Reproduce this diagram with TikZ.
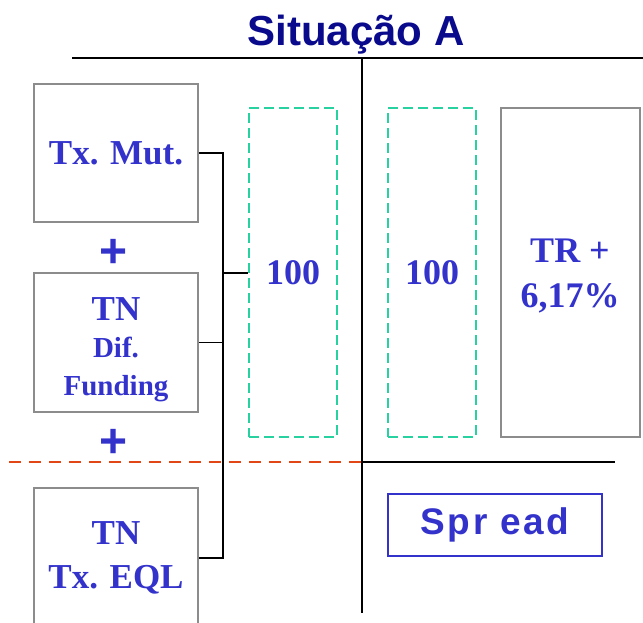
\documentclass[tikz,border=0pt]{standalone}
\usepackage{fontspec}
\setmainfont{Liberation Serif}
\setsansfont{Liberation Sans}
\usetikzlibrary{positioning, calc}

\definecolor{titleblue}{RGB}{10,10,140}
\definecolor{txtblue}{RGB}{51,51,204}
\definecolor{boxgray}{RGB}{140,140,140}
\definecolor{dashgreen}{RGB}{40,210,160}
\definecolor{dashred}{RGB}{225,70,20}

\begin{document}
\begin{tikzpicture}[
        x=1pt, y=-1pt,
        term/.style={rectangle, draw=boxgray, line width=1.6pt, minimum width=164pt, align=center, text=txtblue, font=\bfseries\fontsize{35}{44}\selectfont},
        amount/.style={rectangle, draw=dashgreen, line width=1.4pt, dash pattern=on 10pt off 5pt, minimum width=88pt, minimum height=329pt, text=txtblue, font=\bfseries\fontsize{36}{44}\selectfont},
        plussign/.style={text=txtblue, font=\sffamily\bfseries\fontsize{48}{48}\selectfont, inner sep=0pt},
        link/.style={draw, line width=1.2pt},
        axis/.style={draw, line width=1.2pt}
    ]
        \useasboundingbox (0,0) rectangle (643,622);

        % Title
        \node[text=titleblue, font=\sffamily\bfseries\fontsize{42}{42}\selectfont, anchor=base] (title) at (356,45) {Situação A};

        % Axes
        \coordinate (topL) at (72,58);
        \coordinate (topR) at (643,58);
        \coordinate (mid) at (362,58);
        \coordinate (low) at (362,613);
        \coordinate (cross) at (362,462);
        \coordinate (redL) at (9,462);
        \coordinate (blackR) at (615,462);
        \draw[axis] (topL) -- (topR);
        \draw[axis] (mid) -- (low);
        \draw[axis, dashred, dash pattern=on 12pt off 8pt] (redL) -- (cross);
        \draw[axis] (cross) -- (blackR);

        % Left terms
        \node[term, minimum height=138pt] (mut) at (116,153) {Tx. Mut.};
        \node[plussign] (plus1) at (114,253) {+};
        \node[term, minimum height=139pt] (fund) at (116,342.5) {\rule{0pt}{37pt}TN\\[-7pt]{\fontsize{29}{35}\selectfont Dif.}\\[-6pt]{\fontsize{29}{35}\selectfont Funding}};
        \node[plussign] (plus2) at (114,443) {+};
        \node[term, minimum height=140pt] (eql) at (116,558) {TN\\Tx. EQL};

        % Amounts
        \node[amount] (left100) at (293,272.5) {100};
        \node[amount] (right100) at (432,272.5) {100};
        \node[rectangle, draw=boxgray, line width=1.6pt, minimum width=139pt, minimum height=329pt] (tr) at (570.5,272.5) {};
        \node[text=txtblue, font=\bfseries\fontsize{36}{45}\selectfont, align=center, anchor=north, inner sep=0pt] (trtxt) at (570,239) {TR +\\6,17\%};

        % Spread
        \node[rectangle, draw=txtblue, line width=1.4pt, minimum width=214pt, minimum height=62pt, text=txtblue, font=\sffamily\bfseries\fontsize{37}{37}\selectfont\addfontfeatures{LetterSpace=7}] (spread) at (495,525) {Spr ead};

        % Bracket
        \coordinate (jn) at (223,273);
        \draw[link] (mut.east) -| (jn);
        \draw[link] (eql.east) -| (jn);
        \draw[link] (fund.east) -- (fund.east -| jn);
        \draw[link] (jn) -- (left100.west |- jn);
    \end{tikzpicture}
\end{document}
